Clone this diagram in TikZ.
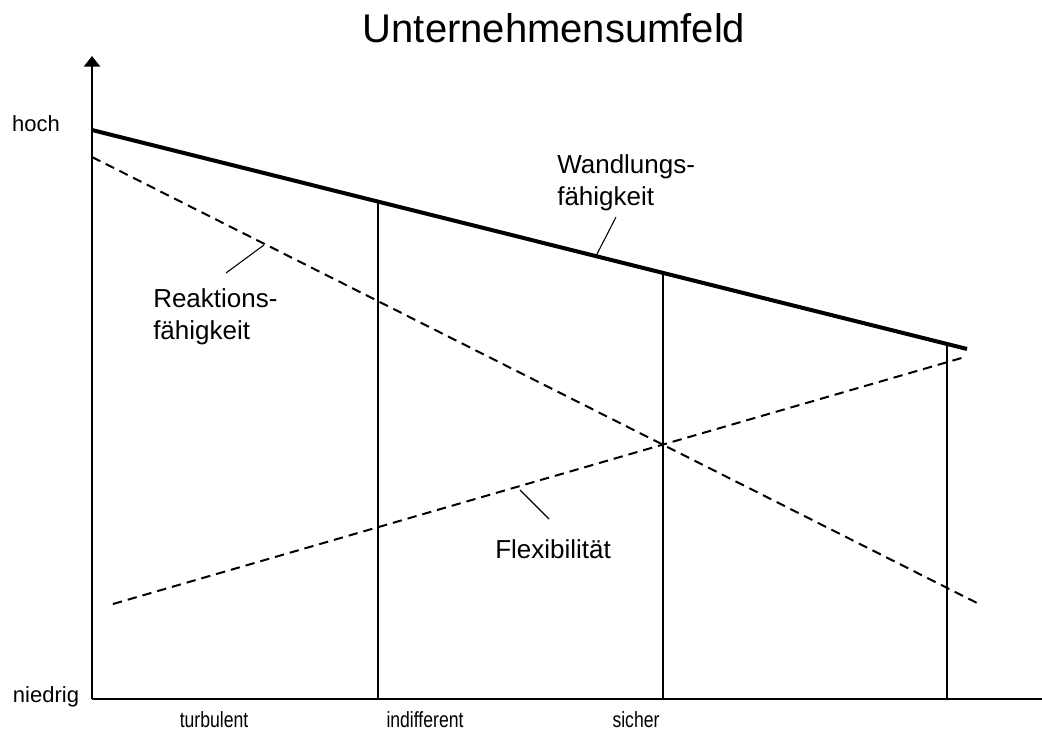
\documentclass[tikz,border=0pt]{standalone}
\usepackage{fontspec}
\usepackage{graphicx}
\setmainfont{Liberation Sans}
\usetikzlibrary{arrows.meta}
\begin{document}
\begin{tikzpicture}[x=0.75pt,y=-0.75pt,
  axis/.style={line width=2.2pt},
  trend/.style={line width=3pt},
  trenddash/.style={line width=1.5pt,dash pattern=on 7pt off 4.5pt},
  divider/.style={line width=1pt},
  leader/.style={line width=0.8pt},
  axislabel/.style={inner sep=0pt,anchor=base,font=\fontsize{16.5}{20}\selectfont},
  zonelabel/.style={inner sep=0pt,anchor=base,font=\fontsize{16.5}{20}\selectfont},
  curvelabel/.style={inner sep=0pt,align=left,font=\fontsize{19.5}{24}\selectfont}]
  \useasboundingbox (0,0) rectangle (1042,731);

  % title
  \node[inner sep=0pt,anchor=base,font=\fontsize{30}{36}\selectfont] (title) at (554,43) {Unternehmensumfeld};

  % axes
  \coordinate (origin) at (92,699);
  \coordinate (ytop) at (92,56);
  \coordinate (xend) at (1042,699);
  \draw[axis,-{Triangle[length=8pt,width=12pt]}] (origin) -- (ytop);
  \draw[axis] (origin) -- (xend);

  \node[axislabel] (hoch) at (36,132) {hoch};
  \node[axislabel] (niedrig) at (46,702) {niedrig};

  % curves
  \coordinate (w0) at (92,130);
  \coordinate (w1) at (967,349);
  \coordinate (r0) at (92,157);
  \coordinate (r1) at (977,603);
  \coordinate (f0) at (113,604);
  \coordinate (f1) at (965,357);

  % zone dividers
  \coordinate (d1t) at (378,201.6);
  \coordinate (d1b) at (378,699);
  \coordinate (d2t) at (663,272.9);
  \coordinate (d2b) at (663,699);
  \coordinate (d3t) at (947,344);
  \coordinate (d3b) at (947,699);
  \draw[divider] (d1t) -- (d1b);
  \draw[divider] (d2t) -- (d2b);
  \draw[divider] (d3t) -- (d3b);

  \draw[trend] (w0) -- (w1);
  \draw[trenddash] (r0) -- (r1);
  \draw[trenddash] (f0) -- (f1);

  % curve labels and leaders
  \node[curvelabel,anchor=north west] (wlab) at (557,154.4) {Wandlungs-\\fähigkeit};
  \node[curvelabel,anchor=north west] (rlab) at (153,288) {Reaktions-\\fähigkeit};
  \node[curvelabel,anchor=base west] (flab) at (495,558) {Flexibilität};

  \coordinate (wl0) at (596,256);
  \coordinate (wl1) at (616,217);
  \coordinate (rl0) at (264,245);
  \coordinate (rl1) at (226,273);
  \coordinate (fl0) at (520,490);
  \coordinate (fl1) at (549,519);
  \draw[leader] (wl0) -- (wl1);
  \draw[leader] (rl0) -- (rl1);
  \draw[leader] (fl0) -- (fl1);

  % zone labels
  \node[zonelabel] (turb) at (214,727) {\scalebox{0.8}[1]{turbulent}};
  \node[zonelabel] (indif) at (425,727) {\scalebox{0.8}[1]{indifferent}};
  \node[zonelabel] (sich) at (636,727) {\scalebox{0.8}[1]{sicher}};
\end{tikzpicture}
\end{document}
